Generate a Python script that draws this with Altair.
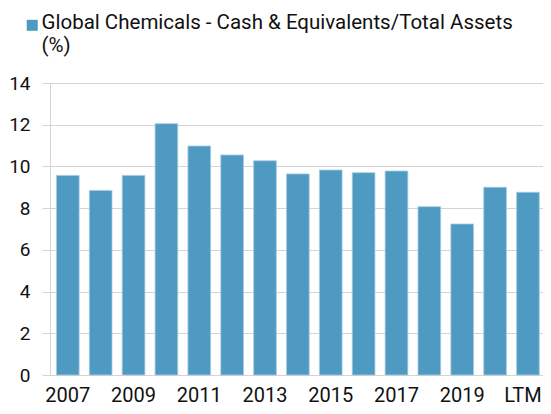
import altair as alt
import pandas as pd

categories = ["2007", "2008", "2009", "2010", "2011", "2012", "2013", "2014",
              "2015", "2016", "2017", "2018", "2019", "2020", "LTM"]
values = [9.57, 8.85, 9.57, 12.05, 10.98, 10.55, 10.27, 9.64,
          9.83, 9.70, 9.78, 8.07, 7.24, 9.00, 8.76]
series_name = "Global Chemicals - Cash & Equivalents/Total Assets (%)"
legend_lines = ["Global Chemicals - Cash & Equivalents/Total Assets", "(%)"]
shown_labels = ["2007", "2009", "2011", "2013", "2015", "2017", "2019", "LTM"]

df = pd.DataFrame({"period": categories, "value": values, "series": series_name})

FONT = "Roboto"
GRID = "#d4d4d4"
BAR = "#4f9ac3"

label_expr = ("indexof(['" + "','".join(shown_labels) +
              "'], datum.label) >= 0 ? datum.label : ''")
legend_expr = "['" + "','".join(legend_lines) + "']"

chart = alt.Chart(df).mark_bar(
    color=BAR, stroke="#a6cbe0", strokeWidth=0.8
).encode(
    x=alt.X("period:N", sort=categories,
            scale=alt.Scale(paddingInner=0.31, paddingOuter=0.155, align=0.635),
            axis=alt.Axis(title=None, labelAngle=0, labelFontSize=20, labelFont=FONT,
                          labelColor="#111111", labelExpr=label_expr, ticks=False,
                          domainColor=GRID, labelPadding=26,
                          labelBaseline="alphabetic",
                          labelOffset={"condition": {"test": "datum.label == 'LTM'",
                                                     "value": -5}, "value": 0})),
    y=alt.Y("value:Q", scale=alt.Scale(domain=[0, 14]),
            axis=alt.Axis(title=None, values=[0, 2, 4, 6, 8, 10, 12, 14],
                          labelFontSize=19, labelFont=FONT, labelColor="#111111",
                          tickSize=8, tickColor=GRID, gridColor=GRID,
                          domainColor=GRID, labelPadding=12)),
    color=alt.Color("series:N", scale=alt.Scale(range=[BAR]),
                    legend=alt.Legend(
                        title=None, orient="none", legendX=-29, legendY=-80,
                        symbolType="M-0.82,1.19H1.18V3.19H-0.82Z", symbolSize=121,
                        symbolStrokeWidth=0,
                        labelFontSize=20.5, labelFont=FONT, labelColor="#111111",
                        labelLimit=0, labelBaseline="top", labelOffset=0,
                        labelExpr=legend_expr)),
).properties(
    width=493, height=292,
    autosize=alt.AutoSizeParams(type="none"),
    padding={"left": 42, "top": 75, "right": 0, "bottom": 31},
).configure_view(stroke=None).configure(background="white")

chart.save("out.html", embed_options={"renderer": "svg", "actions": False})
